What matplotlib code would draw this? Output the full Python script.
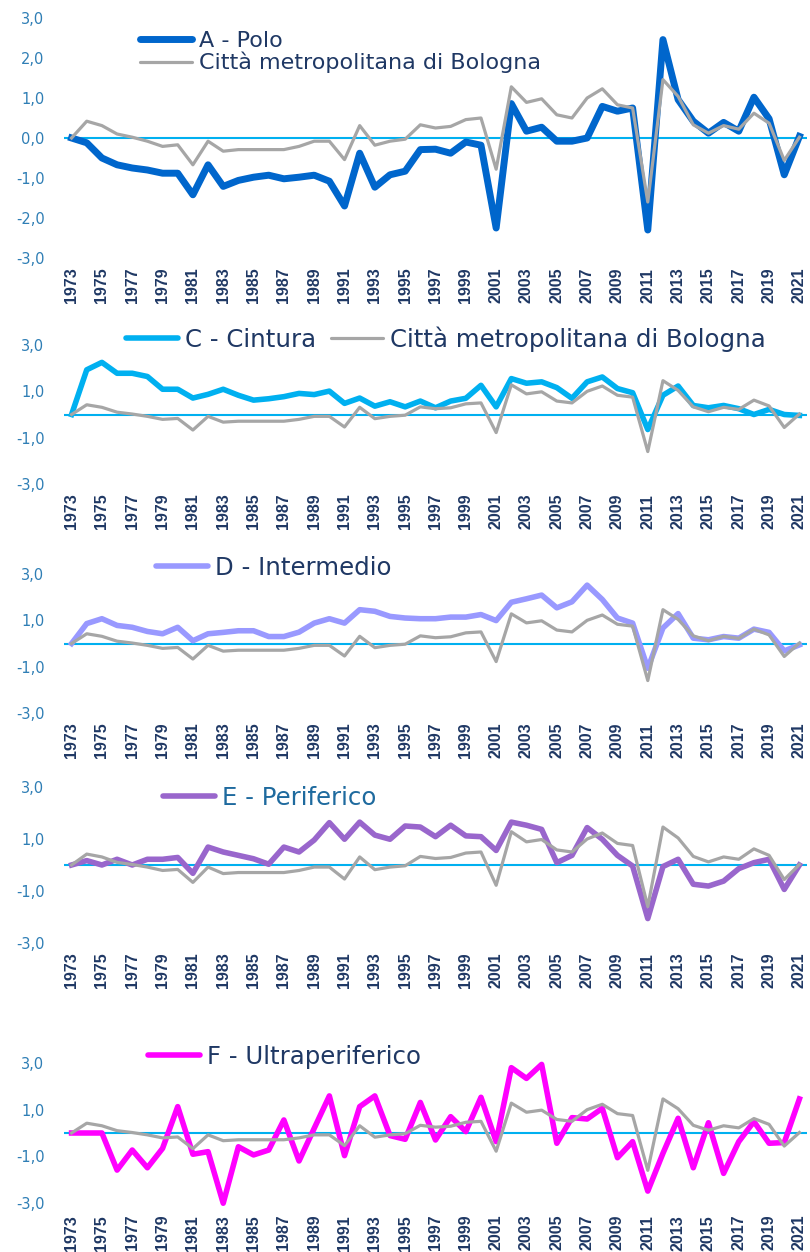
import matplotlib
matplotlib.use('Agg')
import matplotlib.pyplot as plt
import numpy as np

years = list(range(1973, 2022))

# Città metropolitana di Bologna (same series in every panel)
bologna = [0.0, 0.42, 0.31, 0.10, 0.02, -0.08, -0.21, -0.17, -0.67, -0.08,
           -0.33, -0.29, -0.29, -0.29, -0.29, -0.21, -0.08, -0.08, -0.54, 0.31,
           -0.18, -0.08, -0.03, 0.33, 0.25, 0.29, 0.46, 0.50, -0.78, 1.28,
           0.89, 0.98, 0.58, 0.50, 1.00, 1.23, 0.83, 0.75, -1.60, 1.46,
           1.04, 0.33, 0.12, 0.31, 0.22, 0.62, 0.37, -0.56, 0.02]

polo = [0.0, -0.12, -0.50, -0.67, -0.75, -0.80, -0.88, -0.88, -1.42, -0.67,
        -1.21, -1.06, -0.98, -0.93, -1.02, -0.98, -0.93, -1.08, -1.70, -0.38,
        -1.23, -0.92, -0.83, -0.29, -0.28, -0.38, -0.10, -0.18, -2.25, 0.86,
        0.17, 0.27, -0.08, -0.08, 0.00, 0.79, 0.67, 0.75, -2.30, 2.46,
        0.96, 0.42, 0.12, 0.39, 0.17, 1.02, 0.48, -0.92, 0.04]

cintura = [0.0, 1.93, 2.25, 1.78, 1.78, 1.64, 1.09, 1.09, 0.71, 0.87,
           1.09, 0.83, 0.62, 0.68, 0.77, 0.91, 0.86, 1.01, 0.48, 0.71,
           0.36, 0.55, 0.33, 0.58, 0.29, 0.58, 0.70, 1.26, 0.33, 1.55,
           1.35, 1.41, 1.16, 0.70, 1.41, 1.62, 1.12, 0.94, -0.65, 0.83,
           1.23, 0.39, 0.29, 0.39, 0.25, 0.00, 0.22, 0.00, -0.04]

intermedio = [0.0, 0.86, 1.07, 0.78, 0.70, 0.52, 0.42, 0.70, 0.12, 0.42,
              0.48, 0.55, 0.55, 0.30, 0.30, 0.49, 0.88, 1.07, 0.88, 1.46,
              1.39, 1.17, 1.10, 1.07, 1.07, 1.14, 1.14, 1.25, 0.99, 1.78,
              1.93, 2.09, 1.54, 1.80, 2.52, 1.90, 1.10, 0.88, -1.07, 0.67,
              1.29, 0.23, 0.16, 0.30, 0.23, 0.62, 0.48, -0.32, -0.06]

periferico = [0.0, 0.17, 0.00, 0.22, 0.00, 0.22, 0.22, 0.29, -0.32, 0.69,
              0.50, 0.37, 0.24, 0.03, 0.69, 0.50, 0.96, 1.63, 0.99, 1.65,
              1.15, 0.99, 1.50, 1.46, 1.09, 1.53, 1.12, 1.09, 0.56, 1.65,
              1.53, 1.37, 0.09, 0.37, 1.44, 0.99, 0.37, -0.04, -2.06, -0.06,
              0.22, -0.74, -0.81, -0.62, -0.14, 0.09, 0.22, -0.94, 0.00]

ultraperiferico = [0.0, 0.0, 0.0, -1.59, -0.73, -1.49, -0.66, 1.13, -0.91, -0.80,
                   -3.01, -0.59, -0.94, -0.73, 0.56, -1.20, 0.20, 1.59, -0.97, 1.13,
                   1.59, -0.11, -0.27, 1.31, -0.30, 0.70, 0.06, 1.53, -0.37, 2.80,
                   2.34, 2.94, -0.44, 0.66, 0.60, 1.06, -1.06, -0.37, -2.49, -0.87,
                   0.63, -1.49, 0.44, -1.73, -0.37, 0.49, -0.44, -0.41, 1.46]

W, H = 810, 1252
fig = plt.figure(figsize=(W / 100, H / 100), dpi=100)

navy = '#1F3864'
tick_blue = '#2F7EB5'
gray = '#A6A6A6'

# (series, label, colour, top px of y=3, bottom px of y=-3, yticks, linewidth)
panels = [
    (polo, 'A - Polo', '#0066CC', 18, 258, [-3, -2, -1, 0, 1, 2, 3], 5.0),
    (cintura, 'C - Cintura', '#00B0F0', 345, 484, [-3, -1, 1, 3], 4.0),
    (intermedio, 'D - Intermedio', '#9999FF', 574, 713, [-3, -1, 1, 3], 4.0),
    (periferico, 'E - Periferico', '#9966CC', 787, 943, [-3, -1, 1, 3], 4.0),
    (ultraperiferico, 'F - Ultraperiferico', '#FF00FF', 1063, 1203, [-3, -1, 1, 3], 4.0),
]
legend_pos = [(140, 52), (126, 339), (156, 568), (163, 798), (148, 1057)]
legend_col = [navy, navy, navy, '#1E6A9E', navy]

for i, (vals, name, col, top, bot, yt, lw) in enumerate(panels):
    ax = fig.add_axes([64 / W, 1 - bot / H, (807 - 64) / W, (bot - top) / H])
    ax.axhline(0, color='#00B0F0', linewidth=1.5, zorder=1)
    l1, = ax.plot(years, vals, color=col, linewidth=lw, solid_joinstyle='round',
                  label=name, zorder=2, clip_on=False)
    l2, = ax.plot(years, bologna, color=gray, linewidth=2.3, solid_joinstyle='round',
                  label='Città metropolitana di Bologna', zorder=3, clip_on=False)
    ax.set_xlim(1972.5, 2021.5)
    ax.set_ylim(-3, 3)
    for s in ax.spines.values():
        s.set_visible(False)
    ax.set_yticks(yt)
    ax.set_yticklabels([('%.1f' % v).replace('.', ',') for v in yt],
                       color=tick_blue, fontsize=10.5)
    ax.set_xticks(years[::2])
    ax.set_xticklabels([str(y) for y in years[::2]], rotation=90,
                       fontsize=11.5, fontweight='bold', color=navy,
                       family='Liberation Sans')
    ax.tick_params(axis='y', length=0, pad=14)
    ax.tick_params(axis='x', length=0, pad=8.5 if i == 4 else 7)

    lx, ly = legend_pos[i]
    if i == 0:
        handles, ncol, fs = [l1, l2], 1, 16
    elif i == 1:
        handles, ncol, fs = [l1, l2], 2, 17.6
    else:
        handles, ncol, fs = [l1], 1, 17.6
    leg = ax.legend(handles=handles, loc='center left', ncol=ncol,
                    bbox_to_anchor=(lx / W, 1 - ly / H),
                    bbox_transform=fig.transFigure, frameon=False,
                    borderpad=0, borderaxespad=0, handlelength=52 / (fs * 1.389),
                    handletextpad=7 / (fs * 1.389), labelspacing=0.05,
                    columnspacing=15 / (fs * 1.389), prop={'size': fs})
    for t in leg.get_texts():
        t.set_color(legend_col[i])
    for h in leg.legend_handles:
        h.set_solid_capstyle('round')

fig.savefig('out.png', dpi=100)
